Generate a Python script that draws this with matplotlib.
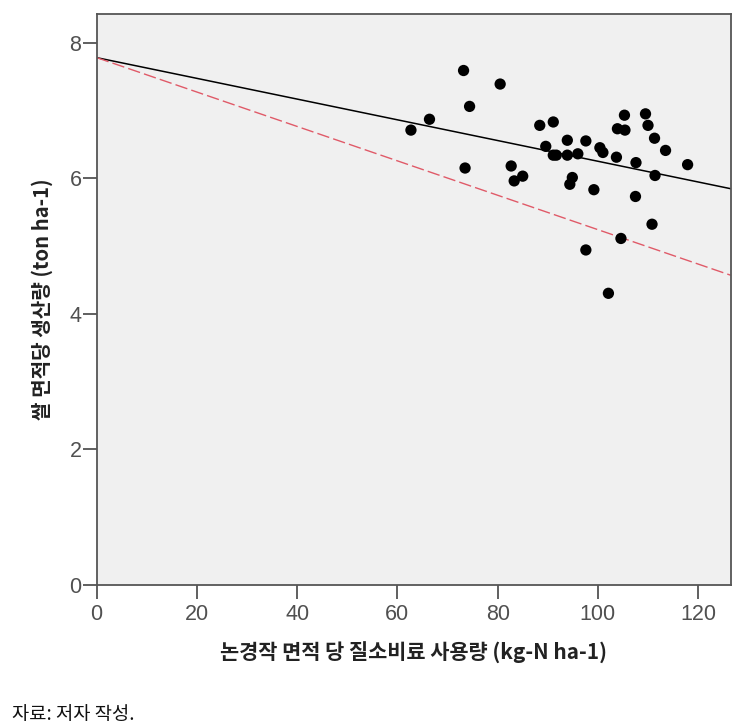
import numpy as np
import matplotlib.pyplot as plt

# fertilizer use per paddy area vs rice yield
fert_x = [62.7, 66.4, 73.2, 74.4, 73.5, 80.5, 82.7, 83.3, 85.0, 88.4,
          91.1, 89.6, 91.1, 91.7, 93.9, 93.9, 96.0, 94.9, 94.4, 97.6,
          99.2, 97.6, 100.4, 101.0, 103.7, 104.6, 103.9, 105.3, 105.4, 107.6,
          107.5, 109.5, 110.0, 111.3, 111.4, 110.8, 113.5, 117.9, 102.1]
yield_y = [6.71, 6.87, 7.59, 7.06, 6.15, 7.39, 6.18, 5.96, 6.03, 6.78,
           6.83, 6.47, 6.34, 6.34, 6.56, 6.34, 6.36, 6.01, 5.91, 6.55,
           5.83, 4.94, 6.45, 6.38, 6.31, 5.11, 6.73, 6.93, 6.71, 6.23,
           5.73, 6.95, 6.78, 6.59, 6.04, 5.32, 6.41, 6.20, 4.30]

# fitted line (black) and reference line (red dashed): intercept, slope
fit_line = (7.78, -0.0153)
ref_line = (7.78, -0.0254)

x_ticks = [0, 20, 40, 60, 80, 100, 120]
y_ticks = [0, 2, 4, 6, 8]

kor = ['Noto Sans CJK KR', 'DejaVu Sans']

fig = plt.figure(figsize=(7.46, 7.26), dpi=100)
ax = fig.add_axes([0.1296, 0.1949, 0.8499, 0.7854])
ax.set_facecolor('#f0f0f0')

xlim = (0, 126.5)
ax.set_xlim(*xlim)
ax.set_ylim(0, 8.42)

xs = np.array(xlim)
ax.plot(xs, fit_line[0] + fit_line[1] * xs, color='black', lw=1.1, zorder=2)
ax.plot(xs, ref_line[0] + ref_line[1] * xs, color='#e05a68', lw=1.0,
        dashes=(9, 3), zorder=2)
ax.scatter(fert_x, yield_y, s=66, color='black', edgecolors='none', zorder=3)

ax.set_xticks(x_ticks)
ax.set_yticks(y_ticks)
ax.tick_params(direction='out', length=10, width=1.2, color='#444444',
               labelcolor='#505050', labelsize=15.5)
ax.tick_params(axis='y', pad=1)
ax.tick_params(axis='x', pad=4)
for lab in ax.get_xticklabels() + ax.get_yticklabels():
    lab.set_family('Liberation Sans')
for sp in ax.spines.values():
    sp.set_color('#555555')
    sp.set_linewidth(1.3)

ax.set_xlabel('논경작 면적 당 질소비료 사용량 (kg-N ha-1)', family=kor,
              fontweight='bold', fontsize=15, color='#222222', labelpad=12)
ax.set_ylabel('쌀 면적당 생산량 (ton ha-1)', family=kor,
              fontweight='bold', fontsize=14.5, color='#222222', labelpad=12)

fig.text(0.016, 0.0165, '자료: 저자 작성.', family=kor, fontsize=13.5,
         color='#111111', va='center')

fig.savefig('out.png', dpi=100)
